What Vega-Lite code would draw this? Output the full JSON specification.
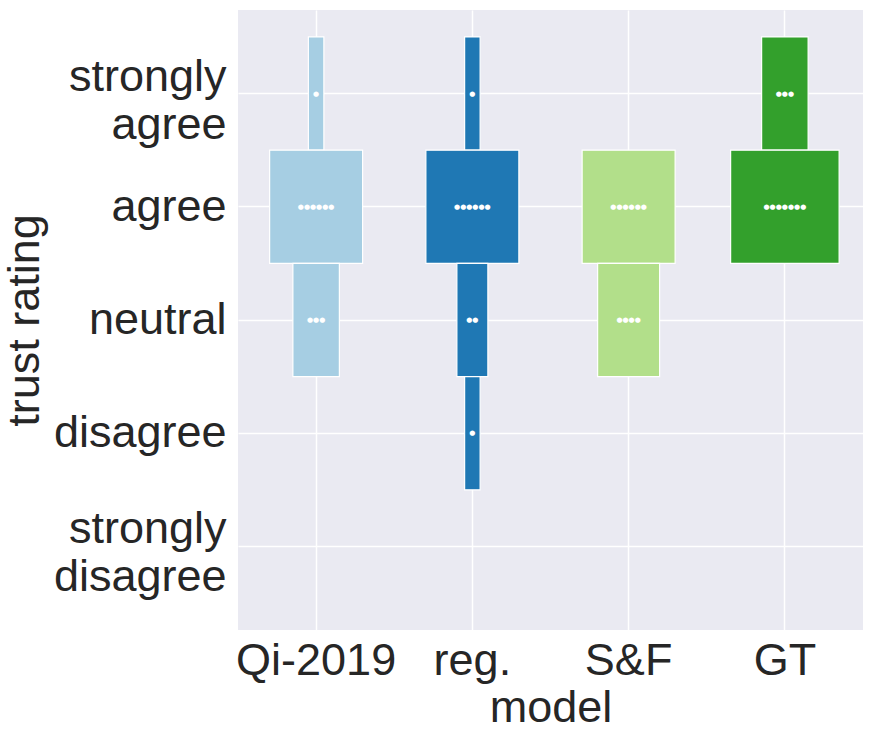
{
  "$schema": "https://vega.github.io/schema/vega-lite/v6.json",
  "autosize": {"type": "none"},
  "padding": {"left": 238, "top": 10, "right": 9, "bottom": 107},
  "width": 625,
  "height": 620,
  "background": "white",
  "config": {
    "view": {"fill": "#EAEAF2", "stroke": null},
    "font": "Liberation Sans",
    "axis": {
      "domain": false,
      "ticks": false,
      "gridColor": "white",
      "gridWidth": 1.5,
      "labelFont": "Liberation Sans",
      "titleFont": "Liberation Sans",
      "labelFontSize": 45,
      "titleFontSize": 45,
      "labelColor": "#262626",
      "titleColor": "#262626",
      "titleFontWeight": "normal"
    }
  },
  "data": {
    "values": [
      {"model": "Qi-2019", "rating": "strongly agree", "count": 1},
      {"model": "Qi-2019", "rating": "agree", "count": 6},
      {"model": "Qi-2019", "rating": "neutral", "count": 3},
      {"model": "reg.", "rating": "strongly agree", "count": 1},
      {"model": "reg.", "rating": "agree", "count": 6},
      {"model": "reg.", "rating": "neutral", "count": 2},
      {"model": "reg.", "rating": "disagree", "count": 1},
      {"model": "S&F", "rating": "agree", "count": 6},
      {"model": "S&F", "rating": "neutral", "count": 4},
      {"model": "GT", "rating": "strongly agree", "count": 3},
      {"model": "GT", "rating": "agree", "count": 7}
    ]
  },
  "encoding": {
    "x": {
      "field": "model", "type": "nominal",
      "sort": ["Qi-2019", "reg.", "S&F", "GT"],
      "scale": {"domain": ["Qi-2019", "reg.", "S&F", "GT"], "paddingInner": 0, "paddingOuter": 0},
      "axis": {"labelAngle": 0, "grid": true, "bandPosition": 0.5, "labelPadding": 8, "titlePadding": 2, "title": "model"}
    },
    "y": {
      "field": "rating", "type": "ordinal",
      "scale": {"domain": ["strongly agree", "agree", "neutral", "disagree", "strongly disagree"], "paddingInner": 0, "paddingOuter": 0.2375},
      "axis": {
        "grid": true, "bandPosition": 0.5, "labelPadding": 12,
        "labelExpr": "split(datum.label, ' ')", "labelLineHeight": 48,
        "labelOffset": {"condition": {"test": "indexof(datum.label, ' ') >= 0", "value": -17}, "value": 0},
        "title": "trust rating", "titlePadding": 6
      }
    }
  },
  "layer": [
    {
      "mark": {"type": "bar", "orient": "vertical", "stroke": "white", "strokeWidth": 1.2},
      "encoding": {
        "size": {"field": "count", "type": "quantitative", "scale": {"type": "linear", "domain": [0, 7], "range": [0, 108.5]}, "legend": null},
        "color": {"field": "model", "type": "nominal", "scale": {"domain": ["Qi-2019", "reg.", "S&F", "GT"], "range": ["#a6cee3", "#1f78b4", "#b2df8a", "#33a02c"]}, "legend": null}
      }
    },
    {
      "transform": [{"calculate": "pad('', datum.count, '●')", "as": "dots"}],
      "mark": {"type": "text", "color": "white", "font": "DejaVu Sans", "fontSize": 7, "baseline": "middle", "align": "center"},
      "encoding": {"text": {"field": "dots"}}
    }
  ]
}
